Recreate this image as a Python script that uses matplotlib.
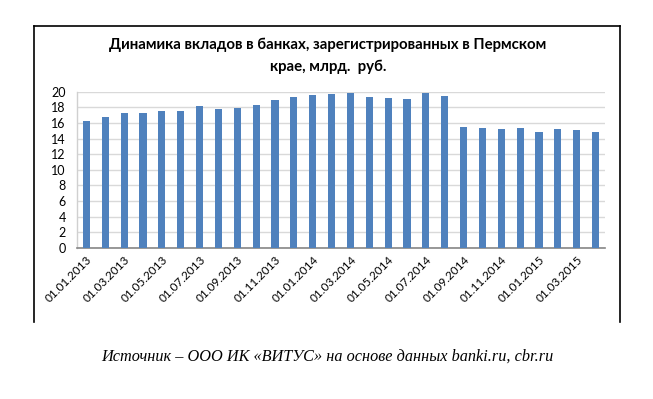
import numpy as np
import pandas as pd
import matplotlib
matplotlib.use('Agg')
import matplotlib.pyplot as plt
from matplotlib.lines import Line2D

# шрифт, похожий на Calibri
plt.rcParams['font.family'] = ['Lato', 'DejaVu Sans']

# =====данные=====
dates = pd.date_range('2013-01-01', periods=28, freq='MS').strftime('%d.%m.%Y').tolist()
deposits = [16.3, 16.8, 17.3, 17.3, 17.5, 17.5, 18.2, 17.8, 17.9, 18.3, 18.9, 19.3, 19.6, 19.7,
            19.8, 19.3, 19.2, 19.1, 19.8, 19.4, 15.5, 15.4, 15.2, 15.4, 14.9, 15.2, 15.1, 14.9]
yticks = np.arange(0, 21, 2)

title = 'Динамика вкладов в банках, зарегистрированных в Пермском\nкрае, млрд.  руб.'
source = 'Источник – ООО ИК «ВИТУС» на основе данных banki.ru, cbr.ru'

W, H = 653, 399
fig = plt.figure(figsize=(W / 100, H / 100), dpi=100)
fig.patch.set_facecolor('white')

# область построения
ax = fig.add_axes([77 / W, 1 - 248 / H, (605 - 77) / W, (248 - 91.7) / H])
x = np.arange(len(deposits))
ax.bar(x, deposits, width=0.38, color='#4f81bd', zorder=3)
ax.set_xlim(-0.5, len(deposits) - 0.5)
ax.set_ylim(0, 20)
ax.set_yticks(yticks)
ax.yaxis.grid(True, color='#d9d9d9', lw=1, zorder=0)
for line in ['right', 'top']:
    ax.spines[line].set_visible(False)
ax.spines['bottom'].set_color('#868686')
ax.spines['bottom'].set_linewidth(1.2)
ax.spines['left'].set_color('#d0d0d0')
ax.spines['left'].set_linewidth(1)
ax.tick_params(axis='y', length=0, pad=8, labelsize=9, labelcolor='#000000')
ax.tick_params(axis='x', length=0, pad=4, labelsize=8.5)
ax.set_xticks(x[::2])
ax.set_xticklabels(dates[::2], rotation=45, ha='right', rotation_mode='anchor')

# заголовок
fig.text(328 / W, 1 - 56 / H, title, ha='center', va='center', fontsize=10.8,
         fontweight='bold', linespacing=1.7)

# рамка диаграммы (без нижней линии)
lw = 1.2
fig.add_artist(Line2D([34 / W, 34 / W], [1 - 322 / H, 1 - 26 / H], color='black', lw=lw))
fig.add_artist(Line2D([620 / W, 620 / W], [1 - 322 / H, 1 - 26 / H], color='black', lw=lw))
fig.add_artist(Line2D([34 / W, 620 / W], [1 - 26 / H, 1 - 26 / H], color='black', lw=lw))

# источник
fig.text(327 / W, 1 - 357 / H, source, ha='center', va='center', fontsize=11.7,
         fontstyle='italic', family=['Liberation Serif', 'DejaVu Serif'])

fig.savefig('out.png', dpi=100, facecolor='white')
